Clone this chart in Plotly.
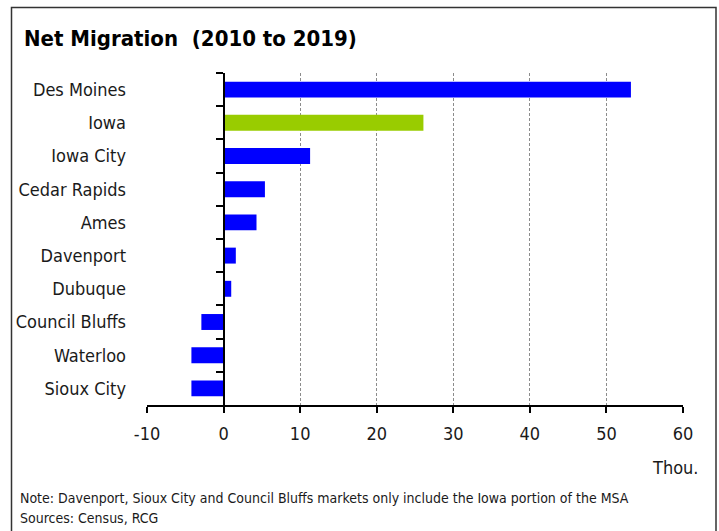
import plotly.graph_objects as go

# Net migration by Iowa market, 2010-2019 (thousands)
markets = ["Des Moines", "Iowa", "Iowa City", "Cedar Rapids", "Ames",
           "Davenport", "Dubuque", "Council Bluffs", "Waterloo", "Sioux City"]
net_migration = [53.2, 26.1, 11.3, 5.4, 4.3, 1.6, 1.0, -2.9, -4.2, -4.2]
x_ticks = [-10, 0, 10, 20, 30, 40, 50, 60]
x_tick_labels = ["-10", "0", "10", "20", "30", "40", "50", "60"]

BLUE = "#0000FF"
GREEN = "#99CC00"
bar_colors = [GREEN if m == "Iowa" else BLUE for m in markets]

FONT = "DejaVu Sans Condensed, Liberation Sans Narrow, Arial Narrow, sans-serif"

W, H = 719, 531
ML, MR, MT, MB = 147, 36, 73, 126
x_min, x_max = x_ticks[0], x_ticks[-1]

fig = go.Figure()
fig.add_trace(go.Bar(
    x=net_migration, y=markets, orientation="h",
    marker=dict(color=bar_colors, line=dict(width=0)),
    width=0.48, hoverinfo="x+y", showlegend=False,
))
# invisible companion trace that carries the category axis drawn at zero
fig.add_trace(go.Scatter(
    x=[0] * len(markets), y=markets, yaxis="y2", mode="none",
    hoverinfo="skip", showlegend=False,
))

# paper-space helpers for decorations outside the plot area
pw, ph = W - ML - MR, H - MT - MB
def px_x(p):
    return (p - ML) / pw
def px_y(p):
    return 1 - (p - MT) / ph

fig.update_layout(
    width=W, height=H,
    margin=dict(l=ML, r=MR, t=MT, b=MB, pad=0),
    paper_bgcolor="white", plot_bgcolor="white",
    font=dict(family=FONT, size=18, color="#1a1a1a"),
    xaxis=dict(
        range=[x_min, x_max], tickvals=x_ticks, ticktext=x_tick_labels,
        showgrid=True, gridcolor="#8c8c8c", griddash="3px,2px", gridwidth=1,
        zeroline=False, showline=True, linecolor="black", linewidth=1.5,
        ticks="outside", ticklen=6, tickcolor="black", tickwidth=1.5,
        ticklabelstandoff=6, tickfont=dict(size=18), fixedrange=True,
    ),
    yaxis=dict(
        type="category", categoryarray=markets, autorange="reversed",
        showgrid=False, zeroline=False, showline=False, ticks="",
        ticklabelstandoff=20, tickfont=dict(size=18), fixedrange=True,
    ),
    yaxis2=dict(
        type="category", categoryarray=markets, autorange="reversed",
        overlaying="y", matches="y", anchor="free", side="left",
        position=(0 - x_min) / (x_max - x_min),
        showline=True, linecolor="black", linewidth=1.5,
        ticks="outside", tickson="boundaries", ticklen=7,
        tickcolor="black", tickwidth=1.5,
        showticklabels=False, showgrid=False, zeroline=False,
    ),
    shapes=[dict(
        type="rect", xref="paper", yref="paper",
        x0=px_x(11.5), x1=px_x(716), y0=px_y(545), y1=px_y(7.5),
        line=dict(color="#333333", width=1.5), fillcolor="rgba(0,0,0,0)",
        layer="below",
    )],
    annotations=[
        dict(text="<b>Net Migration  (2010 to 2019)</b>", xref="paper", yref="paper",
             x=px_x(22), y=px_y(38), xanchor="left", yanchor="middle",
             showarrow=False, font=dict(size=22, color="black")),
        dict(text="Thou.", xref="paper", yref="paper",
             x=px_x(700), y=px_y(467), xanchor="right", yanchor="middle",
             showarrow=False, font=dict(size=18)),
        dict(text="Note: Davenport, Sioux City and Council Bluffs markets only include the Iowa portion of the MSA",
             xref="paper", yref="paper",
             x=px_x(18), y=px_y(498), xanchor="left", yanchor="middle",
             showarrow=False, font=dict(size=14)),
        dict(text="Sources: Census, RCG",
             xref="paper", yref="paper",
             x=px_x(18), y=px_y(518), xanchor="left", yanchor="middle",
             showarrow=False, font=dict(size=14)),
    ],
)

fig.write_html("out.html")
